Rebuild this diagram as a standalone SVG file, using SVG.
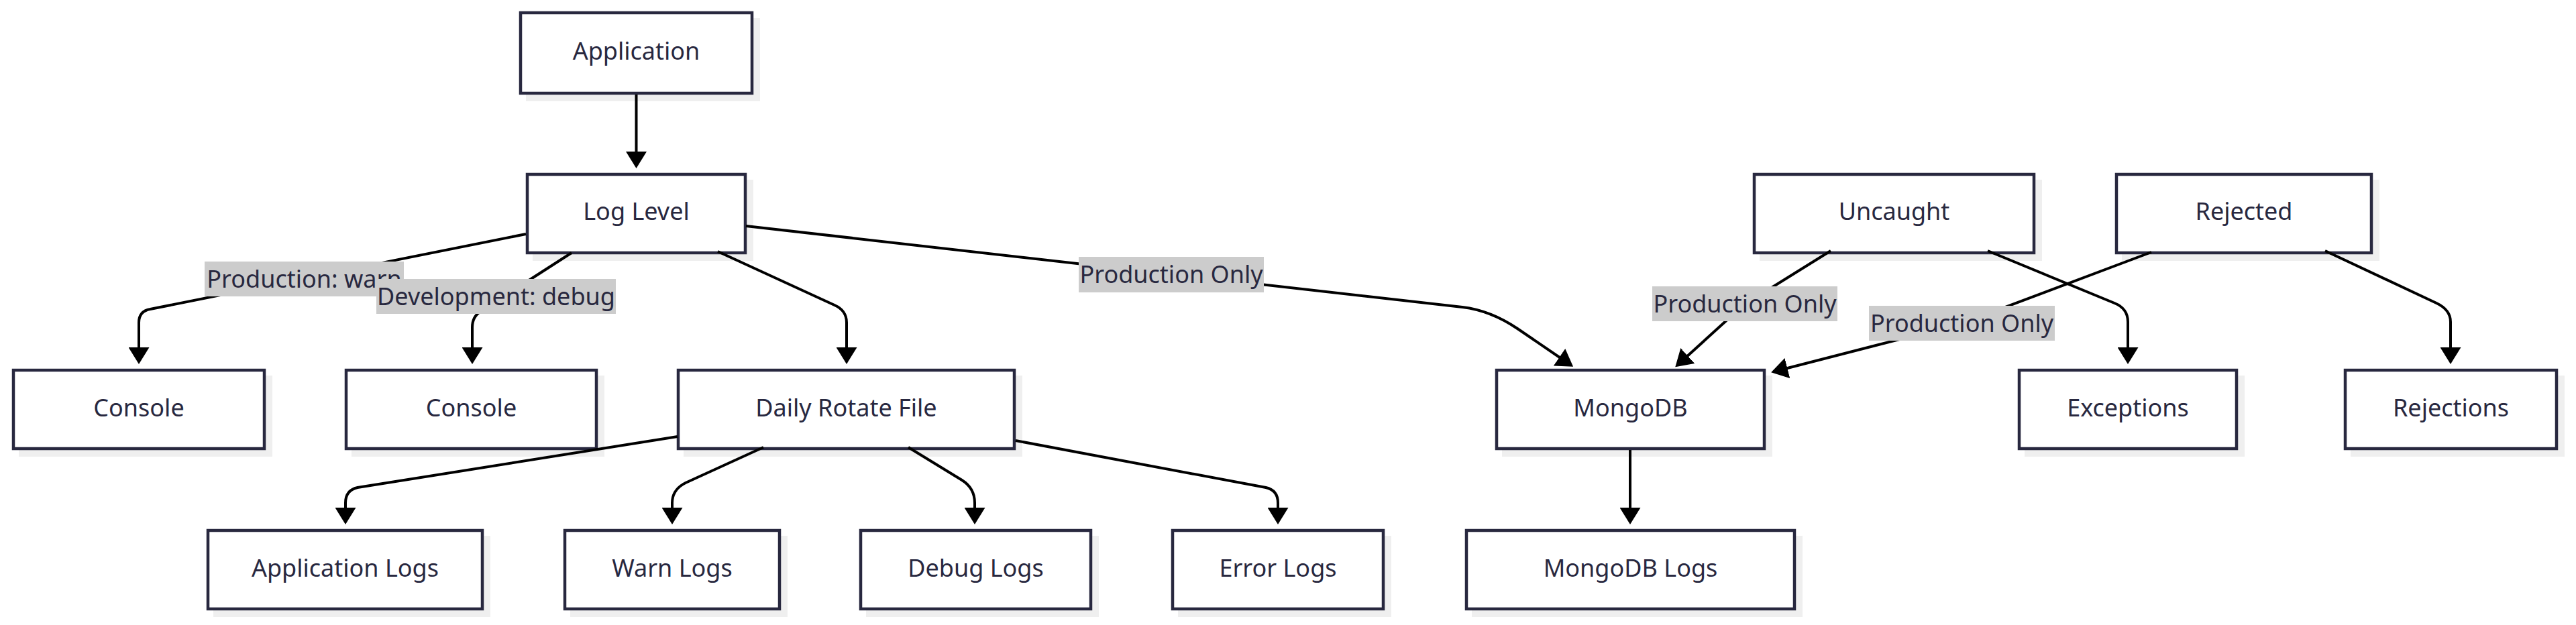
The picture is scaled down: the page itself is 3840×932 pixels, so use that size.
<svg xmlns="http://www.w3.org/2000/svg" width="3840" height="932" viewBox="0 0 3840 932">
<defs>
<marker id="arrow" viewBox="0 0 25 31" refX="20" refY="15.5" markerWidth="25" markerHeight="31" markerUnits="userSpaceOnUse" orient="auto">
<path d="M0,0 L25,15.5 L0,31 z" fill="#000"/>
</marker>
</defs>
<style>
.shadow{fill:#efefef;stroke:none}
.box{fill:#fff;stroke:#28283f;stroke-width:4.5}
.nt{font-family:"Noto Sans","Open Sans",sans-serif;font-size:36px;fill:#28283f;text-anchor:middle}
.edge{fill:none;stroke:#000;stroke-width:4;marker-end:url(#arrow)}
.lbg{fill:#cccccc}
</style>
<rect width="3840" height="932" fill="#fff"/>

<g id="node-application"><rect class="shadow" x="784" y="27" width="349" height="124"/><rect class="box" x="776" y="19" width="345" height="120"/><text class="nt" x="948.5" y="89">Application</text></g>
<g id="node-loglevel"><rect class="shadow" x="794" y="268" width="329" height="121"/><rect class="box" x="786" y="260" width="325" height="117"/><text class="nt" x="948.5" y="328">Log Level</text></g>
<g id="node-uncaught"><rect class="shadow" x="2623" y="268" width="421" height="121"/><rect class="box" x="2615" y="260" width="417" height="117"/><text class="nt" x="2823.5" y="328">Uncaught</text></g>
<g id="node-rejected"><rect class="shadow" x="3163" y="268" width="384" height="121"/><rect class="box" x="3155" y="260" width="380" height="117"/><text class="nt" x="3345" y="328">Rejected</text></g>
<g id="node-console1"><rect class="shadow" x="28" y="560" width="378" height="121"/><rect class="box" x="20" y="552" width="374" height="117"/><text class="nt" x="207" y="621">Console</text></g>
<g id="node-console2"><rect class="shadow" x="524" y="560" width="377" height="121"/><rect class="box" x="516" y="552" width="373" height="117"/><text class="nt" x="702.5" y="621">Console</text></g>
<g id="node-dailyrotate"><rect class="shadow" x="1019" y="560" width="505" height="121"/><rect class="box" x="1011" y="552" width="501" height="117"/><text class="nt" x="1261.5" y="621">Daily Rotate File</text></g>
<g id="node-mongodb"><rect class="shadow" x="2239" y="560" width="403" height="121"/><rect class="box" x="2231" y="552" width="399" height="117"/><text class="nt" x="2430.5" y="621">MongoDB</text></g>
<g id="node-exceptions"><rect class="shadow" x="3018" y="560" width="328" height="121"/><rect class="box" x="3010" y="552" width="324" height="117"/><text class="nt" x="3172" y="621">Exceptions</text></g>
<g id="node-rejections"><rect class="shadow" x="3504" y="560" width="319" height="121"/><rect class="box" x="3496" y="552" width="315" height="117"/><text class="nt" x="3653.5" y="621">Rejections</text></g>
<g id="node-applogs"><rect class="shadow" x="318" y="799" width="413" height="121"/><rect class="box" x="310" y="791" width="409" height="117"/><text class="nt" x="514.5" y="860">Application Logs</text></g>
<g id="node-warnlogs"><rect class="shadow" x="850" y="799" width="324" height="121"/><rect class="box" x="842" y="791" width="320" height="117"/><text class="nt" x="1002" y="860">Warn Logs</text></g>
<g id="node-debuglogs"><rect class="shadow" x="1291" y="799" width="347" height="121"/><rect class="box" x="1283" y="791" width="343" height="117"/><text class="nt" x="1454.5" y="860">Debug Logs</text></g>
<g id="node-errorlogs"><rect class="shadow" x="1756" y="799" width="318" height="121"/><rect class="box" x="1748" y="791" width="314" height="117"/><text class="nt" x="1905" y="860">Error Logs</text></g>
<g id="node-mongologs"><rect class="shadow" x="2194" y="799" width="493" height="121"/><rect class="box" x="2186" y="791" width="489" height="117"/><text class="nt" x="2430.5" y="860">MongoDB Logs</text></g>

<g id="connectors">
<path class="edge" d="M948.5,141 L948.5,246"/>
<path class="edge" d="M784,349 L224,461 Q207,464 207,481 L207,538"/>
<path class="edge" d="M852,377 L717,464 Q704,472 704,488 L704,538"/>
<path class="edge" d="M1070,375 L1244,455 Q1262,463 1262,481 L1262,538"/>
<path class="edge" d="M1112,337 L2180,458 Q2222,463 2262,490 L2341,544"/>
<path class="edge" d="M2729,374 L2615,445 Q2601,453 2590,463 L2501,544"/>
<path class="edge" d="M2963,374 L3152,452 Q3172,460 3172,480 L3172,538"/>
<path class="edge" d="M3207,376 L2925,482 L2645,554"/>
<path class="edge" d="M3466,374 L3632,452 Q3653,462 3653,480 L3653,538"/>
<path class="edge" d="M1010,651 L533,727 Q515,731 515,750 L515,777"/>
<path class="edge" d="M1138,667 L1022,720 Q1002,730 1002,750 L1002,777"/>
<path class="edge" d="M1354,667 L1434,716 Q1453,728 1453,750 L1453,777"/>
<path class="edge" d="M1514,657 L1887,727 Q1905,731 1905,750 L1905,777"/>
<path class="edge" d="M2430,671 L2430,777"/>
</g>

<g id="edge-labels">
<g id="label-prod-warn"><rect class="lbg" x="305" y="390" width="297" height="52"/><text class="nt" x="453.5" y="429">Production: warn</text></g>
<g id="label-dev-debug"><rect class="lbg" x="561" y="416" width="357" height="52"/><text class="nt" x="739.5" y="455">Development: debug</text></g>
<g id="label-prod-only-1"><rect class="lbg" x="1608" y="383" width="276" height="53"/><text class="nt" x="1746" y="422">Production Only</text></g>
<g id="label-prod-only-2"><rect class="lbg" x="2463" y="427" width="276" height="52"/><text class="nt" x="2601" y="466">Production Only</text></g>
<g id="label-prod-only-3"><rect class="lbg" x="2786" y="456" width="277" height="52"/><text class="nt" x="2924.5" y="495">Production Only</text></g>
</g>
</svg>
